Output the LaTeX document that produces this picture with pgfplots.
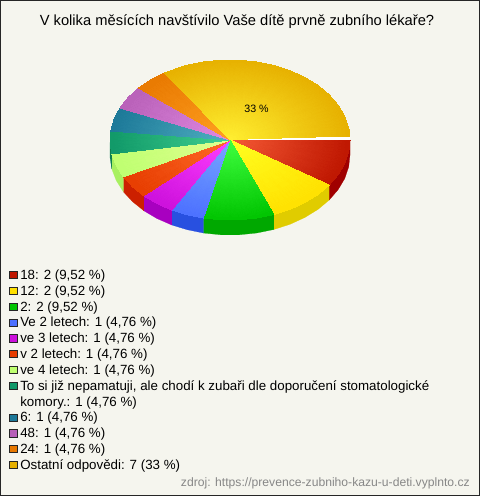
\documentclass[border=0pt]{standalone}
\usepackage{pgfplots}
\pgfplotsset{compat=1.18}
\usepackage{fontspec}
\setmainfont{Liberation Sans}
\definecolor{bgc}{HTML}{F5F5EE}
\definecolor{a0}{HTML}{F55A35}\definecolor{a1}{HTML}{BE1600}\definecolor{a2}{HTML}{A00000}
\definecolor{b0}{HTML}{FFFF20}\definecolor{b1}{HTML}{FFE000}\definecolor{b2}{HTML}{E0CC00}
\definecolor{c0}{HTML}{40FF40}\definecolor{c1}{HTML}{00C400}\definecolor{c2}{HTML}{00A800}
\definecolor{d0}{HTML}{78A8FF}\definecolor{d1}{HTML}{4C70FF}\definecolor{d2}{HTML}{2850E0}
\definecolor{e0}{HTML}{FF40FF}\definecolor{e1}{HTML}{CC10DC}\definecolor{e2}{HTML}{A800C0}
\definecolor{f0}{HTML}{FF6A28}\definecolor{f1}{HTML}{E63C00}\definecolor{f2}{HTML}{CC2000}
\definecolor{g0}{HTML}{E0FF90}\definecolor{g1}{HTML}{BEFF70}\definecolor{g2}{HTML}{A8F060}
\definecolor{h0}{HTML}{40D090}\definecolor{h1}{HTML}{109868}\definecolor{h2}{HTML}{0C8050}
\definecolor{i0}{HTML}{50B0C0}\definecolor{i1}{HTML}{1C7898}
\definecolor{j0}{HTML}{E088E0}\definecolor{j1}{HTML}{B860B8}
\definecolor{k0}{HTML}{FFA020}\definecolor{k1}{HTML}{E87800}
\definecolor{l0}{HTML}{FFEE30}\definecolor{l1}{HTML}{E6B000}
\pgfplotsset{
  sq/.style={legend image code/.code={\draw[draw=black!85,fill=#1,line width=0.6pt] (0pt,-2.2pt) rectangle (7.4pt,5pt);}},
  fan/.style={patch,shader=interp,mesh/color input=explicit,forget plot},
  side/.style={fill=#1,draw=#1,line width=0.2pt,forget plot}
}
\begin{document}
\begin{tikzpicture}
\begin{axis}[
  scale only axis,width=479pt,height=495pt,
  xmin=0.5,xmax=479.5,ymin=0.5,ymax=495.5,y dir=reverse,
  enlargelimits=false,xtick=\empty,ytick=\empty,
  axis line style={line width=1pt,black!85},
  axis background/.style={fill=bgc},
  title={V kolika měsících navštívilo Vaše dítě prvně zubního lékaře?},
  title style={at={(axis cs:237,19)},anchor=center,yshift=-9pt,inner sep=0pt,font=\fontsize{14.7}{16}\selectfont},
  legend style={at={(axis cs:9.3,268.5)},anchor=north west,draw=none,fill=none,inner sep=0pt,outer sep=0pt,row sep=0pt,
    font=\fontsize{13.33}{15}\selectfont,
    nodes={inner sep=0pt,text height=11pt,text depth=4.83pt},
    /tikz/column 1/.style={column sep=3pt}},
  legend cell align=left,
]
% sides
\addplot[side=a2] coordinates {(350,140)(348.7,151.9)(344.7,163.6)(338.1,174.7)(329.1,185.1)(329.1,200.1)(338.1,189.7)(344.7,178.6)(348.7,166.9)(350,155)} --cycle;
\addplot[side=b2] coordinates {(329.1,185.1)(318,194.4)(304.8,202.5)(290,209.3)(273.8,214.5)(273.8,229.5)(290,224.3)(304.8,217.5)(318,209.4)(329.1,200.1)} --cycle;
\addplot[side=c2] coordinates {(273.8,214.5)(256.7,218)(239,219.8)(221,219.8)(203.3,218)(203.3,233)(221,234.8)(239,234.8)(256.7,233)(273.8,229.5)} --cycle;
\addplot[side=d2] coordinates {(203.3,218)(187.2,214.7)(171.8,210)(171.8,225)(187.2,229.7)(203.3,233)} --cycle;
\addplot[side=e2] coordinates {(171.8,210)(156.9,203.5)(143.8,195.7)(143.8,210.7)(156.9,218.5)(171.8,225)} --cycle;
\addplot[side=f2] coordinates {(143.8,195.7)(132.6,186.7)(123.3,176.7)(123.3,191.7)(132.6,201.7)(143.8,210.7)} --cycle;
\addplot[side=g2] coordinates {(123.3,176.7)(116.2,165.4)(111.8,153.9)(111.8,168.9)(116.2,180.4)(123.3,191.7)} --cycle;
\addplot[side=h2] coordinates {(111.8,153.9)(110,142.4)(110,157.4)(111.8,168.9)} --cycle;
% white gap below the pulled-out slice
\addplot[fill=white,draw=none,forget plot] coordinates {(230,139.5)(350,136)(350,140)(230,140)} --cycle;
% top faces
\addplot[fan] table[meta=c] {
x y c
230 140 color=a0
350 140 color=a1
348.7 151.9 color=a1
230 140 color=a0
348.7 151.9 color=a1
344.7 163.6 color=a1
230 140 color=a0
344.7 163.6 color=a1
338.1 174.7 color=a1
230 140 color=a0
338.1 174.7 color=a1
329.1 185.1 color=a1
};
\addplot[fan] table[meta=c] {
x y c
230 140 color=b0
329.1 185.1 color=b1
318 194.4 color=b1
230 140 color=b0
318 194.4 color=b1
304.8 202.5 color=b1
230 140 color=b0
304.8 202.5 color=b1
290 209.3 color=b1
230 140 color=b0
290 209.3 color=b1
273.8 214.5 color=b1
};
\addplot[fan] table[meta=c] {
x y c
230 140 color=c0
273.8 214.5 color=c1
256.7 218 color=c1
230 140 color=c0
256.7 218 color=c1
239 219.8 color=c1
230 140 color=c0
239 219.8 color=c1
221 219.8 color=c1
230 140 color=c0
221 219.8 color=c1
203.3 218 color=c1
};
\addplot[fan] table[meta=c] {
x y c
230 140 color=d0
203.3 218 color=d1
187.2 214.7 color=d1
230 140 color=d0
187.2 214.7 color=d1
171.8 210 color=d1
};
\addplot[fan] table[meta=c] {
x y c
230 140 color=e0
171.8 210 color=e1
156.9 203.5 color=e1
230 140 color=e0
156.9 203.5 color=e1
143.8 195.7 color=e1
};
\addplot[fan] table[meta=c] {
x y c
230 140 color=f0
143.8 195.7 color=f1
132.6 186.7 color=f1
230 140 color=f0
132.6 186.7 color=f1
123.3 176.7 color=f1
};
\addplot[fan] table[meta=c] {
x y c
230 140 color=g0
123.3 176.7 color=g1
116.2 165.4 color=g1
230 140 color=g0
116.2 165.4 color=g1
111.8 153.9 color=g1
};
\addplot[fan] table[meta=c] {
x y c
230 140 color=h0
111.8 153.9 color=h1
110 142.4 color=h1
230 140 color=h0
110 142.4 color=h1
110.8 131 color=h1
};
\addplot[fan] table[meta=c] {
x y c
230 140 color=i0
110.8 131 color=i1
114.1 119.3 color=i1
230 140 color=i0
114.1 119.3 color=i1
120.1 108 color=i1
};
\addplot[fan] table[meta=c] {
x y c
230 140 color=j0
120.1 108 color=j1
128.2 97.6 color=j1
230 140 color=j0
128.2 97.6 color=j1
138.8 88.1 color=j1
};
\addplot[fan] table[meta=c] {
x y c
230 140 color=k0
138.8 88.1 color=k1
150.8 79.9 color=k1
230 140 color=k0
150.8 79.9 color=k1
164.6 72.9 color=k1
};
\addplot[fan] table[meta=c] {
x y c
230 139.5 color=l0
164.6 72.9 color=l1
186.2 65.5 color=l1
230 139.5 color=l0
186.2 65.5 color=l1
203.3 62 color=l1
230 139.5 color=l0
203.3 62 color=l1
221 60.2 color=l1
230 139.5 color=l0
221 60.2 color=l1
239 60.2 color=l1
230 139.5 color=l0
239 60.2 color=l1
256.7 62 color=l1
230 139.5 color=l0
256.7 62 color=l1
273.8 65.5 color=l1
230 139.5 color=l0
273.8 65.5 color=l1
290 70.7 color=l1
230 139.5 color=l0
290 70.7 color=l1
304.8 77.5 color=l1
230 139.5 color=l0
304.8 77.5 color=l1
318 85.6 color=l1
230 139.5 color=l0
318 85.6 color=l1
329.1 94.9 color=l1
230 139.5 color=l0
329.1 94.9 color=l1
338.1 105.3 color=l1
230 139.5 color=l0
338.1 105.3 color=l1
344.7 116.4 color=l1
230 139.5 color=l0
344.7 116.4 color=l1
348.7 128.1 color=l1
230 139.5 color=l0
348.7 128.1 color=l1
350 136 color=l1
};
\node[font=\fontsize{10.67}{12}\selectfont,anchor=center,inner sep=0pt] at (axis cs:256.5,109) {33 \%};
\node[font=\fontsize{12.15}{14}\selectfont,text=black!47,anchor=east,inner sep=0pt] at (axis cs:470,483) {zdroj: https://prevence-zubniho-kazu-u-deti.vyplnto.cz};
\addlegendimage{sq=a1}\addlegendentry{18: 2 (9,52 \%)}
\addlegendimage{sq=b1}\addlegendentry{12: 2 (9,52 \%)}
\addlegendimage{sq=c1}\addlegendentry{2: 2 (9,52 \%)}
\addlegendimage{sq=d1}\addlegendentry{Ve 2 letech: 1 (4,76 \%)}
\addlegendimage{sq=e1}\addlegendentry{ve 3 letech: 1 (4,76 \%)}
\addlegendimage{sq=f1}\addlegendentry{v 2 letech: 1 (4,76 \%)}
\addlegendimage{sq=g1}\addlegendentry{ve 4 letech: 1 (4,76 \%)}
\addlegendimage{sq=h1}\addlegendentry{To si již nepamatuji, ale chodí k zubaři dle doporučení stomatologické}
\addlegendimage{empty legend}\addlegendentry{komory.: 1 (4,76 \%)}
\addlegendimage{sq=i1}\addlegendentry{6: 1 (4,76 \%)}
\addlegendimage{sq=j1}\addlegendentry{48: 1 (4,76 \%)}
\addlegendimage{sq=k1}\addlegendentry{24: 1 (4,76 \%)}
\addlegendimage{sq=l1}\addlegendentry{Ostatní odpovědi: 7 (33 \%)}
\end{axis}
\end{tikzpicture}
\end{document}
